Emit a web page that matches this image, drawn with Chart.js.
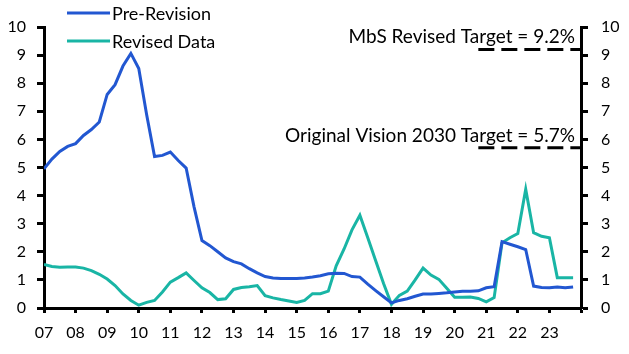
<!DOCTYPE html>
<html>
<head>
<meta charset="utf-8">
<script src="https://cdn.jsdelivr.net/npm/chart.js@4.4.1/dist/chart.umd.min.js"></script>
<style>
  body { margin: 0; background: #fff; }
  #wrap { width: 629px; height: 354px; }
</style>
</head>
<body>
<div id="wrap"><canvas id="myChart" width="629" height="354"></canvas></div>
<script>
"use strict"

// quarterly data, 2007Q1 .. 2023Q4
const startYear = 2007;

const preRevision = [
  4.95, 5.3, 5.57, 5.75, 5.85, 6.14, 6.35, 6.62,
  7.6, 7.95, 8.61, 9.06, 8.52, 6.88, 5.39, 5.43,
  5.55, 5.25, 4.98, 3.6, 2.4, 2.22, 2.0, 1.78,
  1.65, 1.57, 1.4, 1.25, 1.12, 1.07, 1.05, 1.05,
  1.05, 1.07, 1.1, 1.15, 1.22, 1.24, 1.23, 1.12,
  1.1, 0.85, 0.62, 0.4, 0.18, 0.27, 0.33, 0.42,
  0.5, 0.5, 0.52, 0.54, 0.57, 0.6, 0.6, 0.61,
  0.72, 0.76, 2.36, 2.27, 2.18, 2.08, 0.78, 0.73,
  0.72, 0.75, 0.72, 0.75
];

const revisedData = [
  1.55, 1.48, 1.45, 1.46, 1.46, 1.42, 1.33, 1.2,
  1.03, 0.8, 0.5, 0.27, 0.1, 0.2, 0.27, 0.57,
  0.92, 1.08, 1.25, 0.98, 0.72, 0.55, 0.3, 0.33,
  0.66, 0.73, 0.76, 0.8, 0.44, 0.36, 0.3, 0.25,
  0.2, 0.27, 0.51, 0.51, 0.6, 1.5, 2.1, 2.78,
  3.3, 2.5, 1.68, 0.87, 0.13, 0.45, 0.6, 1.0,
  1.42, 1.17, 1.02, 0.7, 0.38, 0.38, 0.39, 0.34,
  0.22, 0.37, 2.32, 2.5, 2.65, 4.23, 2.68, 2.55,
  2.5, 1.08, 1.08, 1.08
];

const seriesNames = ["Pre-Revision", "Revised Data"];
const seriesColors = ["#2257d1", "#19b5a5"];

// target lines
const targetValues = [9.2, 5.7];
const targetLabels = ["MbS Revised Target = 9.2%", "Original Vision 2030 Target = 5.7%"];
const targetFrom = 2020.75;

const yTicks = [0, 1, 2, 3, 4, 5, 6, 7, 8, 9, 10];

// x position of each quarter (decimal year)
let quarters = [];
for (let i = 0; i < preRevision.length; i++) {
  quarters.push(startYear + i / 4);
}

function toPoints(values) {
  return values.map((v, i) => ({ x: quarters[i], y: v }));
}

const tickFont = { family: "Lato", size: 16 };
const legendFont = "18px Lato";
const noteFont = "19px Lato";

// legend + dashed targets, drawn on top of the chart
const extras = {
  id: "extras",
  afterDatasetsDraw(chart) {
    const ctx = chart.ctx;
    const xs = chart.scales.x;
    const ys = chart.scales.y;
    const area = chart.chartArea;
    ctx.save();
    ctx.font = noteFont;
    ctx.fillStyle = "#000";
    ctx.strokeStyle = "#000";
    ctx.lineWidth = 3;
    ctx.setLineDash([16, 7]);
    targetValues.forEach((v, i) => {
      const py = ys.getPixelForValue(v);
      ctx.beginPath();
      ctx.moveTo(xs.getPixelForValue(targetFrom), py);
      ctx.lineTo(area.right, py);
      ctx.stroke();
      ctx.textAlign = "right";
      ctx.textBaseline = "alphabetic";
      ctx.fillText(targetLabels[i], area.right - 6, py - 6);
    });

    // legend, two rows top left
    ctx.setLineDash([]);
    ctx.font = legendFont;
    seriesNames.forEach((name, i) => {
      const ly = 13 + i * 28;
      ctx.strokeStyle = seriesColors[i];
      ctx.beginPath();
      ctx.moveTo(67, ly);
      ctx.lineTo(110, ly);
      ctx.stroke();
      ctx.textAlign = "left";
      ctx.textBaseline = "middle";
      ctx.fillText(name, 112, ly + 1);
    });
    ctx.restore();
  }
};

const axisBorder = { display: true, color: "#000", width: 3 };

new Chart(document.getElementById("myChart"), {
  type: "line",
  data: {
    datasets: [
      {
        label: seriesNames[0],
        data: toPoints(preRevision),
        borderColor: seriesColors[0],
        borderWidth: 3,
        pointRadius: 0,
        tension: 0
      },
      {
        label: seriesNames[1],
        data: toPoints(revisedData),
        borderColor: seriesColors[1],
        borderWidth: 3,
        pointRadius: 0,
        tension: 0
      }
    ]
  },
  options: {
    responsive: false,
    animation: false,
    layout: { padding: { top: 27, left: 0, right: 0, bottom: 0 } },
    plugins: {
      legend: { display: false },
      tooltip: { enabled: false }
    },
    scales: {
      x: {
        type: "linear",
        min: 2007,
        max: 2024,
        border: axisBorder,
        grid: { drawOnChartArea: false, tickLength: 5, tickWidth: 3, tickColor: "#000" },
        ticks: {
          stepSize: 1,
          color: "#000",
          font: tickFont,
          padding: 10,
          maxRotation: 0,
          callback: v => v >= 2024 ? "" : String(v).slice(2)
        },
        afterFit: s => { s.height = 46; }
      },
      y: {
        position: "left",
        min: 0,
        max: 10,
        border: axisBorder,
        grid: { drawOnChartArea: false, tickLength: 7, tickWidth: 3, tickColor: "#000" },
        afterBuildTicks: s => { s.ticks = yTicks.map(v => ({ value: v })); },
        ticks: { color: "#000", font: tickFont, padding: 11 },
        afterFit: s => { s.width = 44; }
      },
      y2: {
        position: "right",
        min: 0,
        max: 10,
        border: axisBorder,
        grid: { drawOnChartArea: false, tickLength: 7, tickWidth: 3, tickColor: "#000" },
        afterBuildTicks: s => { s.ticks = yTicks.map(v => ({ value: v })); },
        ticks: { color: "#000", font: tickFont, padding: 13 },
        afterFit: s => { s.width = 48; }
      }
    }
  },
  plugins: [extras]
});
</script>
</body>
</html>
